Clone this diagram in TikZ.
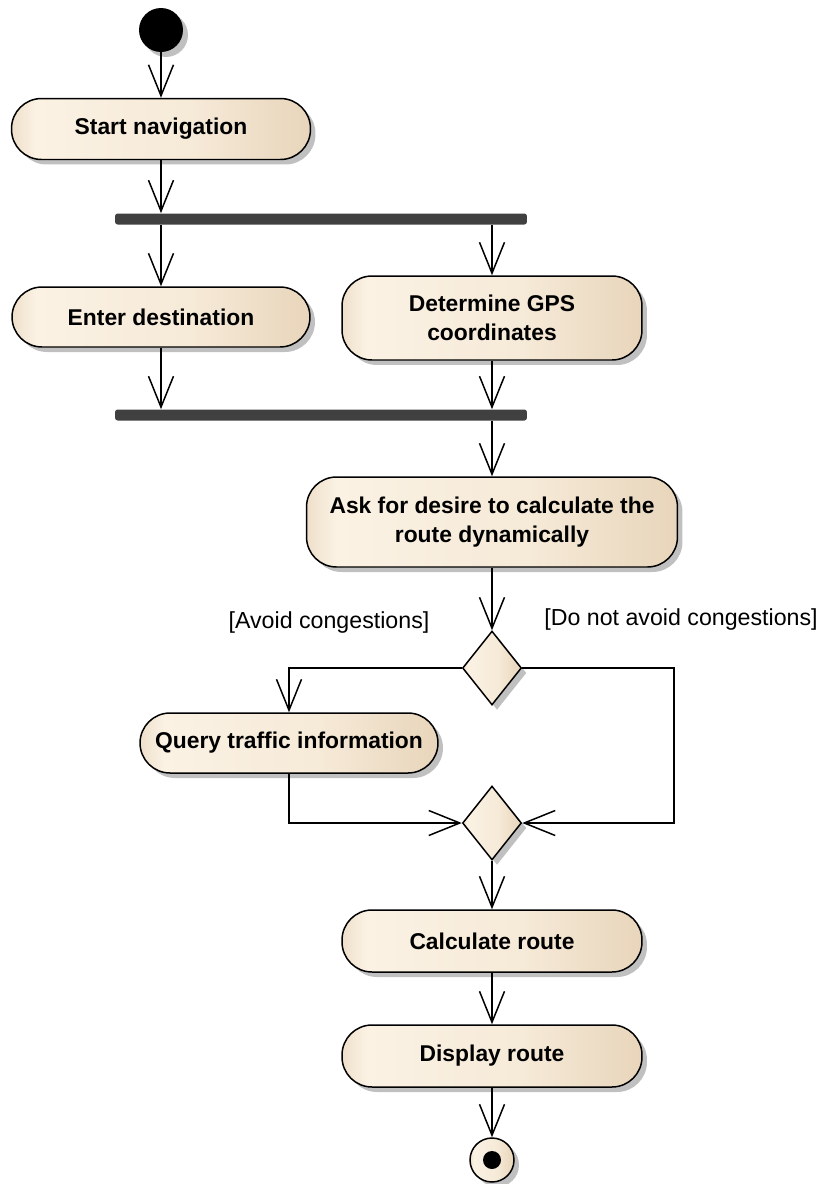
\documentclass[tikz,border=0pt]{standalone}
\usepackage{fontspec}
\setmainfont{Liberation Sans}
\usetikzlibrary{arrows.meta,shapes.geometric,shadows}

\definecolor{actedge}{RGB}{238,223,202}
\definecolor{actlite}{RGB}{251,242,228}
\definecolor{actmid}{RGB}{246,234,216}
\definecolor{actdark}{RGB}{232,213,187}
\definecolor{barcol}{RGB}{64,64,64}
\definecolor{shadowcol}{RGB}{192,192,192}

\pgfdeclarehorizontalshading{actshade}{100bp}{color(0bp)=(actedge); color(25bp)=(actedge); color(29bp)=(actlite); color(55bp)=(actmid); color(75bp)=(actdark); color(100bp)=(actdark)}

\tikzset{
  flow/.style={line width=0.85pt, -{Straight Barb[length=0.62cm,width=0.5cm]}},
  umlshadow/.style={drop shadow={shadow xshift=0.1cm, shadow yshift=-0.1cm, fill=shadowcol, opacity=1}},
  action/.style={draw, line width=0.85pt, rounded corners=0.6cm, shade, shading=actshade,
    umlshadow, align=center, inner sep=0pt, font=\fontsize{13}{16.5}\selectfont\bfseries},
  decision/.style={diamond, draw, line width=0.85pt, shade, shading=actshade, umlshadow,
    inner sep=0pt, minimum width=1.18cm, minimum height=1.48cm},
  syncbar/.style={fill=barcol, rounded corners=1.5pt, minimum width=8.24cm, minimum height=0.22cm, inner sep=0pt},
  initial/.style={circle, fill=black, umlshadow, minimum size=0.88cm, inner sep=0pt},
  final/.style={circle, draw, line width=0.85pt, shade, shading=actshade, umlshadow, minimum size=0.88cm, inner sep=0pt},
  finaldot/.style={circle, fill=black, minimum size=0.36cm, inner sep=0pt},
  guard/.style={font=\fontsize{13.2}{16}\selectfont, inner sep=0pt}
}

\begin{document}
\begin{tikzpicture}[x=0.02cm, y=-0.02cm]
  \useasboundingbox (0,0) rectangle (824,1184);

  \node[initial] (start) at (161,30) {};
  \node[action, minimum width=5.98cm, minimum height=1.22cm] (startnav) at (161,129) {Start navigation};
  \node[syncbar] (fork) at (321,219) {};
  \node[action, minimum width=5.96cm, minimum height=1.2cm] (enterdest) at (161,317) {Enter destination};
  \node[action, minimum width=6cm, minimum height=1.68cm] (gps) at (492,318) {Determine GPS\\coordinates};
  \node[syncbar] (join) at (321,415) {};
  \node[action, minimum width=7.42cm, minimum height=1.8cm] (ask) at (492,522) {Ask for desire to calculate the\\route dynamically};
  \node[decision] (choice) at (492,668) {};
  \node[action, minimum width=5.96cm, minimum height=1.2cm] (query) at (289,743) {Query traffic information};
  \node[decision] (merge) at (492,823) {};
  \node[action, minimum width=6cm, minimum height=1.24cm] (calc) at (492,941) {Calculate route};
  \node[action, minimum width=6cm, minimum height=1.24cm] (display) at (492,1056) {Display route};
  \node[final] (end) at (492,1160) {};
  \node[finaldot] (enddot) at (end) {};

  \node[guard] (avoid) at (329,622) {[Avoid congestions]};
  \node[guard] (noavoid) at (681,619) {[Do not avoid congestions]};

  \draw[flow] (start) -- (startnav);
  \draw[flow] (startnav) -- (startnav |- fork.north);
  \draw[flow] (enterdest |- fork.south) -- (enterdest);
  \draw[flow] (gps |- fork.south) -- (gps);
  \draw[flow] (enterdest) -- (enterdest |- join.north);
  \draw[flow] (gps) -- (gps |- join.north);
  \draw[flow] (ask |- join.south) -- (ask);
  \draw[flow] (ask) -- (choice);
  \draw[flow] (choice.west) -| (query);
  \draw[flow] (choice.east) -- ++(152,0) |- (merge.east);
  \draw[flow] (query) |- (merge.west);
  \draw[flow] (merge) -- (calc);
  \draw[flow] (calc) -- (display);
  \draw[flow] (display) -- (end);
\end{tikzpicture}
\end{document}
